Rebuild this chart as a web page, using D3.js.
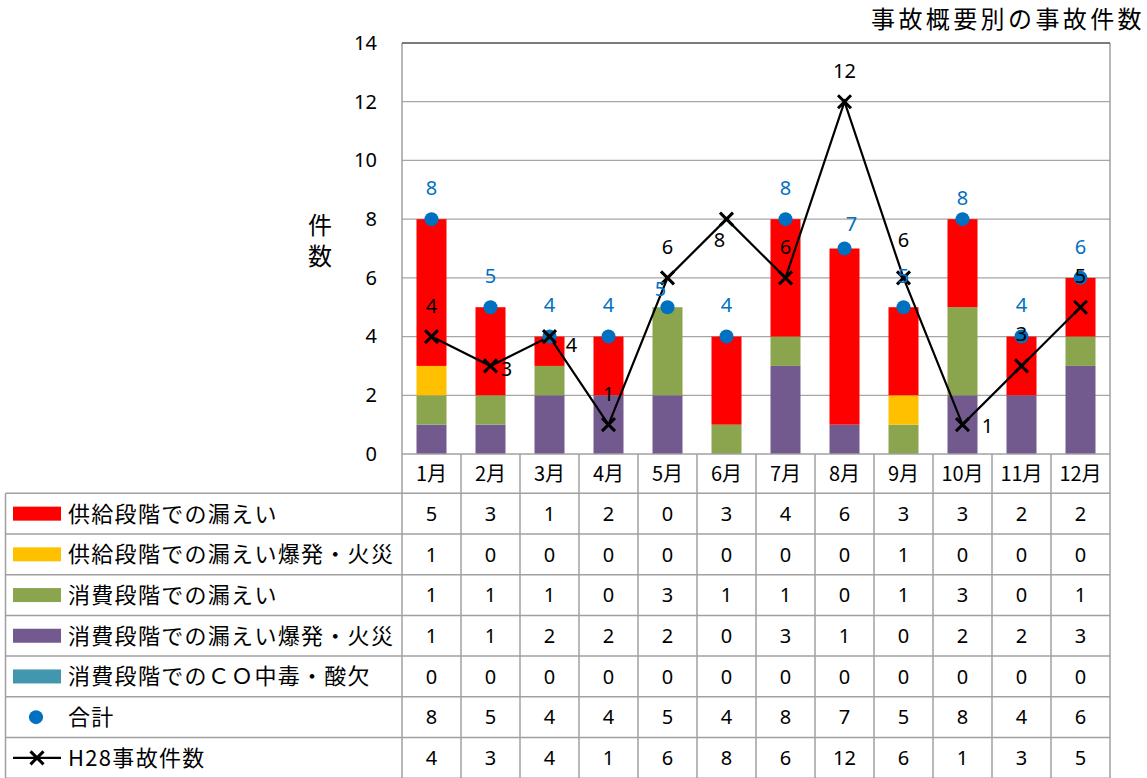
<!DOCTYPE html>
<html><head><meta charset="utf-8">
<script src="https://cdn.jsdelivr.net/npm/d3@7"></script>
<style>body{margin:0;background:#fff;} svg{display:block}</style>
</head><body><svg id="c" width="1147" height="778"></svg>
<script>
// ---- data ----
const months = ["1月","2月","3月","4月","5月","6月","7月","8月","9月","10月","11月","12月"];
const supplyLeak  = [5,3,1,2,0,3,4,6,3,3,2,2];
const supplyFire  = [1,0,0,0,0,0,0,0,1,0,0,0];
const consumeLeak = [1,1,1,0,3,1,1,0,1,3,0,1];
const consumeFire = [1,1,2,2,2,0,3,1,0,2,2,3];
const coPoison    = [0,0,0,0,0,0,0,0,0,0,0,0];
const total       = [8,5,4,4,5,4,8,7,5,8,4,6];
const h28         = [4,3,4,1,6,8,6,12,6,1,3,5];
const yTicks = [0,2,4,6,8,10,12,14];
const title = "事故概要別の事故件数";
const yTitle = "件数";
const seriesNames = ["供給段階での漏えい","供給段階での漏えい爆発・火災","消費段階での漏えい","消費段階での漏えい爆発・火災","消費段階でのＣＯ中毒・酸欠"];
const totalName = "合計";
const lineName = "H28事故件数";

// ---- style / layout ----
const colors = ["#FF0000","#FFC000","#8BA54E","#725A8E","#4297AF"];
const blue = "#0070C0";
const totalLabelOffset = [[0,-31],[0,-31],[0,-32],[0,-32],[-7,-18],[0,-32],[0,-31],[7,-25],[0,-31],[0,-21],[0,-32],[0,-31]];
const lineLabelOffset  = [[0,-31],[16,3],[22,8],[0,-31],[0,-31],[-7,21],[0,-31],[0,-31],[0,-38],[25,1],[0,-32],[0,-31]];
const numFont = "'Noto Sans', 'DejaVu Sans', sans-serif";
const jpFont = "'Noto Sans CJK JP', sans-serif";

const svg = d3.select("#c");
const x = d3.scaleBand(months, [402, 1110]);
const y = d3.scaleLinear([0, 14], [454, 43]);
const barW = 30;

// gridlines
svg.append("g").selectAll("line").data(yTicks.filter(t => t > 0 && t < 14)).join("line")
  .attr("x1", 402).attr("x2", 1110).attr("y1", d => y(d)).attr("y2", d => y(d))
  .attr("stroke", "#A6A6A6").attr("stroke-width", 1.3);

// stacked bars
const rowsData = months.map((m, i) => ({m, s0: supplyLeak[i], s1: supplyFire[i], s2: consumeLeak[i], s3: consumeFire[i], s4: coPoison[i]}));
const stackKeys = ["s3","s4","s2","s1","s0"];
const keyColor = {s0: colors[0], s1: colors[1], s2: colors[2], s3: colors[3], s4: colors[4]};
const stacked = d3.stack().keys(stackKeys)(rowsData);
svg.append("g").selectAll("g").data(stacked).join("g")
  .attr("fill", d => keyColor[d.key])
  .selectAll("rect").data(d => d).join("rect")
  .attr("x", d => x(d.data.m) + x.bandwidth()/2 - barW/2)
  .attr("width", barW)
  .attr("y", d => y(d[1]))
  .attr("height", d => y(d[0]) - y(d[1]));

// frame
svg.append("line").attr("x1",402).attr("x2",402).attr("y1",43).attr("y2",454).attr("stroke","#A0A0A0").attr("stroke-width",1.5);
svg.append("line").attr("x1",1110).attr("x2",1110).attr("y1",43).attr("y2",454).attr("stroke","#A0A0A0").attr("stroke-width",1.5);
svg.append("line").attr("x1",402).attr("x2",1110).attr("y1",y(14)).attr("y2",y(14)).attr("stroke","#505050").attr("stroke-width",1.5);

// y axis labels
const yAxis = d3.axisLeft(y).tickValues(yTicks).tickSize(0).tickPadding(25);
const ya = svg.append("g").attr("transform","translate(402,0)").call(yAxis);
ya.select(".domain").remove();
ya.selectAll("text").attr("font-family", numFont).attr("font-size", 20).attr("fill","#000");

// y title (vertical)
svg.append("text").attr("x", 320).attr("y", 213)
  .style("writing-mode", "vertical-rl").attr("letter-spacing", 7)
  .attr("font-family", jpFont).attr("font-size", 24).text(yTitle);

// chart title
svg.append("text").attr("x", 1145).attr("y", 28).attr("text-anchor","end")
  .attr("font-family", jpFont).attr("font-size", 24).attr("letter-spacing", 3.4).text(title);

// line series
const cx = i => x(months[i]) + x.bandwidth()/2;
svg.append("path").datum(h28)
  .attr("d", d3.line().x((d,i) => cx(i)).y(d => y(d)))
  .attr("fill","none").attr("stroke","#000").attr("stroke-width",2.2);

// total dots
svg.append("g").selectAll("circle").data(total).join("circle")
  .attr("cx", (d,i) => cx(i)).attr("cy", d => y(d)).attr("r", 7).attr("fill", blue);

// X markers
const xm = 6.5;
function cross(g, px, py) {
  g.append("path").attr("d", `M${px-xm},${py-xm}L${px+xm},${py+xm}M${px-xm},${py+xm}L${px+xm},${py-xm}`)
    .attr("stroke","#000").attr("stroke-width",3).attr("fill","none");
}
const mk = svg.append("g");
h28.forEach((d,i) => cross(mk, cx(i), y(d)));

// total labels
svg.append("g").selectAll("text").data(total).join("text")
  .attr("x", (d,i) => cx(i) + totalLabelOffset[i][0])
  .attr("y", (d,i) => y(d) + totalLabelOffset[i][1]).attr("dy","0.36em")
  .attr("text-anchor","middle").attr("font-family", numFont).attr("font-size", 20).attr("fill", blue).text(d => d);

// line labels
svg.append("g").selectAll("text").data(h28).join("text")
  .attr("x", (d,i) => cx(i) + lineLabelOffset[i][0])
  .attr("y", (d,i) => y(d) + lineLabelOffset[i][1]).attr("dy","0.36em")
  .attr("text-anchor","middle").attr("font-family", numFont).attr("font-size", 20).attr("fill", "#000").text(d => d);

// ---- data table ----
const tableRows = [
  {name: seriesNames[0], vals: supplyLeak, type: "rect", color: colors[0]},
  {name: seriesNames[1], vals: supplyFire, type: "rect", color: colors[1]},
  {name: seriesNames[2], vals: consumeLeak, type: "rect", color: colors[2]},
  {name: seriesNames[3], vals: consumeFire, type: "rect", color: colors[3]},
  {name: seriesNames[4], vals: coPoison, type: "rect", color: colors[4]},
  {name: totalName, vals: total, type: "dot", color: blue},
  {name: lineName, vals: h28, type: "line", color: "#000"}
];
const ry = d3.scaleBand(tableRows.map(r => r.name), [493.3, 778.2]);
const tg = svg.append("g");
const gridC = "#A0A0A0";
const hl = tableRows.map(r => ry(r.name)).concat([778.2]);
tg.selectAll("line.h").data(hl).join("line").attr("class","h")
  .attr("x1", 5.5).attr("x2", 1110).attr("y1", d => d).attr("y2", d => d)
  .attr("stroke", gridC).attr("stroke-width", 1.5);
tg.append("line").attr("x1",402).attr("x2",1110).attr("y1",454).attr("y2",454).attr("stroke",gridC).attr("stroke-width",1.5);
const vl = months.map(m => x(m)).concat([1110]);
tg.selectAll("line.v").data(vl).join("line").attr("class","v")
  .attr("x1", d => d).attr("x2", d => d).attr("y1", 454).attr("y2", 778.2)
  .attr("stroke", gridC).attr("stroke-width", 1.5);
tg.append("line").attr("x1",5.5).attr("x2",5.5).attr("y1",493.3).attr("y2",778.2).attr("stroke",gridC).attr("stroke-width",1.5);

// month header
tg.selectAll("text.m").data(months).join("text").attr("class","m")
  .attr("x", m => x(m) + x.bandwidth()/2).attr("y", 474).attr("dy","0.36em")
  .attr("text-anchor","middle").attr("font-family", jpFont).attr("font-size", 20).text(m => m);

// rows
tableRows.forEach(r => {
  const cy = ry(r.name) + ry.bandwidth()/2;
  const g = tg.append("g");
  if (r.type === "rect") {
    g.append("rect").attr("x", 13).attr("y", cy - 7).attr("width", 48).attr("height", 14).attr("fill", r.color);
  } else if (r.type === "dot") {
    g.append("circle").attr("cx", 36).attr("cy", cy).attr("r", 7).attr("fill", r.color);
  } else {
    g.append("line").attr("x1", 13).attr("x2", 61).attr("y1", cy).attr("y2", cy).attr("stroke","#000").attr("stroke-width",2.2);
    cross(g, 37, cy);
  }
  g.append("text").attr("x", 68).attr("y", cy).attr("dy","0.36em")
    .attr("font-family", jpFont).attr("font-size", 22).attr("letter-spacing", 1.3).text(r.name);
  g.selectAll("text.v").data(r.vals).join("text").attr("class","v")
    .attr("x", (d,i) => cx(i)).attr("y", cy).attr("dy","0.36em")
    .attr("text-anchor","middle").attr("font-family", numFont).attr("font-size", 20).text(d => d);
});
</script></body></html>
